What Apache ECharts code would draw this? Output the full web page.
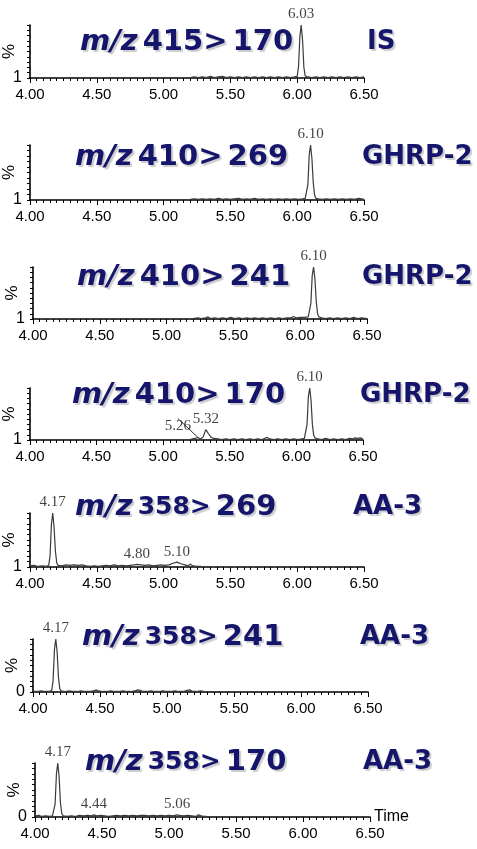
<!DOCTYPE html>
<html>
<head>
<meta charset="utf-8">
<script src="https://cdn.jsdelivr.net/npm/echarts@6/dist/echarts.min.js"></script>
<style>
html,body{margin:0;padding:0;background:#fff;}
#c{width:477px;height:849px;}
</style>
</head>
<body>
<div id="c"></div>
<script>
// ---------- DATA ----------
var xTicks = ['4.00','4.50','5.00','5.50','6.00','6.50'];
var transitions = ['415> 170','410> 269','410> 241','410> 170','358> 269','358> 241','358> 170'];
var compounds = ['IS','GHRP-2','GHRP-2','GHRP-2','AA-3','AA-3','AA-3'];
var baseLabels = ['1','1','1','1','1','0','0'];

var trace1 = [[5.20,1],[5.23,2],[5.26,1],[5.29,2],[5.32,1],[5.35,3],[5.38,1],[5.41,2],[5.44,3],[5.47,1],[5.50,2],[5.53,1],[5.56,2],[5.59,1],[5.62,2],[5.65,1],[5.68,2],[5.71,1],[5.74,2],[5.77,1],[5.80,2],[5.83,1],[5.86,2],[5.89,1],[5.92,2],[5.95,1],[5.98,2],[6.00,3],[6.01,22],[6.02,78],[6.03,100],[6.04,72],[6.05,20],[6.06,4],[6.08,2],[6.11,1],[6.14,2],[6.17,1],[6.20,2],[6.23,1],[6.26,2],[6.29,1],[6.32,2],[6.35,1],[6.38,2],[6.41,1],[6.44,2],[6.47,1],[6.50,2]];
var trace2 = [[5.20,1],[5.23,2],[5.26,1],[5.29,2],[5.32,1],[5.35,2],[5.38,1],[5.41,3],[5.44,1],[5.47,2],[5.50,1],[5.53,2],[5.56,3],[5.59,1],[5.62,2],[5.65,1],[5.68,3],[5.71,1],[5.74,2],[5.77,1],[5.80,2],[5.83,1],[5.86,2],[5.89,1],[5.92,2],[5.95,1],[5.98,2],[6.01,1],[6.04,2],[6.06,3],[6.07,5],[6.08,28],[6.09,82],[6.10,100],[6.11,76],[6.12,32],[6.13,9],[6.14,3],[6.16,2],[6.19,1],[6.22,2],[6.25,1],[6.28,2],[6.31,1],[6.34,2],[6.37,1],[6.40,2],[6.43,1],[6.46,3],[6.48,2],[6.50,1]];
var trace3 = [[5.20,1],[5.23,2],[5.26,1],[5.29,2],[5.31,4],[5.33,1],[5.36,2],[5.39,1],[5.42,2],[5.45,1],[5.48,3],[5.51,1],[5.54,2],[5.57,1],[5.60,2],[5.63,1],[5.66,2],[5.69,1],[5.72,2],[5.75,1],[5.78,2],[5.81,1],[5.84,2],[5.87,1],[5.90,2],[5.93,2],[5.95,5],[5.97,2],[6.00,3],[6.03,3],[6.06,4],[6.07,6],[6.08,30],[6.09,84],[6.10,100],[6.11,78],[6.12,34],[6.13,10],[6.14,4],[6.16,2],[6.19,1],[6.22,2],[6.25,1],[6.28,2],[6.31,1],[6.34,2],[6.37,1],[6.40,3],[6.43,1],[6.46,2],[6.50,1]];
var trace4 = [[5.20,1],[5.22,2],[5.24,3],[5.26,5],[5.28,2],[5.30,6],[5.32,20],[5.34,12],[5.36,5],[5.38,3],[5.41,2],[5.44,1],[5.47,2],[5.50,1],[5.53,2],[5.56,1],[5.59,2],[5.62,1],[5.65,2],[5.68,1],[5.71,2],[5.74,1],[5.76,3],[5.78,5],[5.80,2],[5.83,1],[5.86,2],[5.89,1],[5.92,2],[5.95,1],[5.98,2],[6.01,1],[6.04,2],[6.06,3],[6.07,6],[6.08,30],[6.09,84],[6.10,100],[6.11,76],[6.12,30],[6.13,9],[6.14,4],[6.16,2],[6.19,1],[6.22,3],[6.25,1],[6.28,2],[6.31,1],[6.34,2],[6.37,1],[6.40,3],[6.42,2],[6.44,4],[6.46,3],[6.48,4],[6.50,2]];
var trace5 = [[4.00,2],[4.03,3],[4.06,1],[4.09,2],[4.12,1],[4.14,3],[4.15,20],[4.16,78],[4.17,100],[4.18,74],[4.19,30],[4.20,8],[4.21,3],[4.24,2],[4.27,4],[4.30,3],[4.33,4],[4.36,3],[4.39,4],[4.42,2],[4.45,1],[4.48,2],[4.51,1],[4.54,2],[4.57,3],[4.60,2],[4.63,4],[4.66,2],[4.69,3],[4.72,2],[4.75,3],[4.78,4],[4.80,5],[4.83,4],[4.86,3],[4.89,4],[4.92,2],[4.95,3],[4.98,4],[5.01,3],[5.04,4],[5.07,7],[5.10,9],[5.13,6],[5.16,4],[5.18,2],[5.20,5],[5.22,2],[5.25,1],[5.28,1]];
var trace6 = [[4.00,1],[4.03,1],[4.06,2],[4.09,1],[4.12,1],[4.14,3],[4.15,22],[4.16,80],[4.17,100],[4.18,76],[4.19,28],[4.20,6],[4.21,2],[4.24,1],[4.27,2],[4.30,1],[4.33,1],[4.36,2],[4.39,1],[4.42,1],[4.45,2],[4.47,4],[4.49,2],[4.52,1],[4.55,1],[4.58,2],[4.61,1],[4.64,1],[4.67,2],[4.70,1],[4.73,1],[4.76,2],[4.78,4],[4.80,3],[4.82,1],[4.85,1],[4.88,2],[4.91,1],[4.94,1],[4.97,2],[5.00,1],[5.03,1],[5.06,2],[5.09,1],[5.12,1],[5.15,3],[5.17,4],[5.19,1],[5.22,1],[5.25,2],[5.28,1]];
var trace7 = [[4.00,2],[4.01,5],[4.03,3],[4.05,1],[4.08,2],[4.11,1],[4.13,2],[4.14,4],[4.15,24],[4.16,80],[4.17,100],[4.18,74],[4.19,26],[4.20,6],[4.21,2],[4.24,1],[4.27,2],[4.30,1],[4.33,3],[4.36,2],[4.39,3],[4.42,2],[4.44,4],[4.46,2],[4.49,3],[4.52,2],[4.55,1],[4.58,2],[4.61,3],[4.64,2],[4.67,3],[4.70,2],[4.73,3],[4.76,2],[4.79,3],[4.82,3],[4.85,2],[4.88,3],[4.91,2],[4.94,3],[4.97,2],[5.00,3],[5.03,2],[5.06,4],[5.08,3],[5.11,2],[5.14,3],[5.17,2],[5.20,1],[5.22,4],[5.24,2],[5.26,1],[5.28,1]];

var peaks1 = [[6.03,100]];
var peaks2 = [[6.10,100]];
var peaks3 = [[6.10,100]];
var peaks4 = [[5.26,5],[5.32,20],[6.10,100]];
var peaks5 = [[4.17,100],[4.80,5],[5.10,9]];
var peaks6 = [[4.17,100]];
var peaks7 = [[4.17,100],[4.44,4],[5.06,4]];

var traces = [trace1,trace2,trace3,trace4,trace5,trace6,trace7];
var peaks = [peaks1,peaks2,peaks3,peaks4,peaks5,peaks6,peaks7];

// ---------- LAYOUT ----------
var grids = [
  {left:30, top:25,  width:334, height:53},
  {left:30, top:145, width:334, height:55},
  {left:33, top:267, width:334, height:52},
  {left:30, top:388, width:333, height:52},
  {left:30, top:513, width:334, height:54},
  {left:33, top:639, width:335, height:53},
  {left:35, top:763, width:335, height:54}
];
var titlePos = [
  {x:80, y:43, cx:367}, {x:75, y:158, cx:362}, {x:77, y:278, cx:362}, {x:72, y:396, cx:360},
  {x:75, y:508, cx:353}, {x:82, y:638, cx:360}, {x:85, y:763, cx:363}
];

var navy = '#15156b';
var shadow = {textShadowColor:'rgba(0,0,0,0.2)', textShadowBlur:1, textShadowOffsetX:2, textShadowOffsetY:2};
var FS = 29;
var CFS = 26;

var option = {
  animation:false,
  backgroundColor:'#fff',
  title:[], grid:[], xAxis:[], yAxis:[], series:[]
};

for (var i=0;i<7;i++){
  var g = grids[i];
  option.grid.push({left:g.left, top:g.top, width:g.width, height:g.height, containLabel:false, outerBoundsMode:'none'});
  var small = i>=4;
  var tp = titlePos[i];
  var parts = transitions[i].split(' ');
  option.title.push({
    text:'{i|m/z} {n|'+parts[0]+'} {b|'+parts[1]+'}',
    left:tp.x, top:tp.y-15, padding:0,
    textStyle:{
      rich:{
        i:Object.assign({fontFamily:'DejaVu Sans', fontWeight:'bold', fontStyle:'italic', fontSize:FS, color:navy}, shadow),
        n:Object.assign({fontFamily:'DejaVu Sans', fontWeight:'bold', fontSize: small?25:FS, color:navy}, shadow),
        b:Object.assign({fontFamily:'DejaVu Sans', fontWeight:'bold', fontSize:FS, color:navy}, shadow)
      }
    }
  });
  option.title.push({
    text:compounds[i], left:tp.cx, top:tp.y-14, padding:0,
    textStyle:Object.assign({fontFamily:'DejaVu Sans', fontWeight:'bold', fontSize:CFS, color:navy}, shadow)
  });
  (function(idx){
    option.xAxis.push({
      type:'value', gridIndex:idx, min:4, max:6.5, interval:0.5,
      axisLine:{show:true, onZero:false, lineStyle:{color:'#000', width:1.6}},
      axisTick:{show:true, length:5, lineStyle:{color:'#000', width:1}},
      minorTick:{show:true, splitNumber:10, length:3, lineStyle:{color:'#000', width:1}},
      splitLine:{show:false},
      axisLabel:{margin:9, fontFamily:'Liberation Sans', fontSize:15, color:'#000',
        formatter:function(v){ return v.toFixed(2); }},
      name: idx===6 ? 'Time' : '',
      nameLocation:'end', nameGap:4,
      nameTextStyle:{fontFamily:'Liberation Sans', fontSize:16, color:'#000', verticalAlign:'middle'}
    });
    option.yAxis.push({
      type:'value', gridIndex:idx, min:0, max:100, interval:10,
      axisLine:{show:true, lineStyle:{color:'#000', width:1.6}},
      axisTick:{show:true, length:3, lineStyle:{color:'#000'}},
      splitLine:{show:false},
      axisLabel:{margin:8, fontFamily:'Liberation Sans', fontSize:16, color:'#000',
        formatter:function(v){ return v===0 ? baseLabels[idx] : ''; }},
      name:'%', nameLocation:'middle', nameGap:12, nameRotate:90, nameMoveOverlap:false,
      nameTextStyle:{fontFamily:'Liberation Sans', fontSize:17, color:'#000'}
    });
  })(i);
  option.series.push({
    type:'line', xAxisIndex:i, yAxisIndex:i, data:traces[i],
    showSymbol:false, symbol:'none', silent:true,
    lineStyle:{color:'#3a3a3a', width:1.2}
  });
  var isP4 = (i===3);
  var pdata = peaks[i].map(function(p, k){
    var item = {value:p};
    if (isP4 && k===0) { item.labelLine = {show:true, lineStyle:{color:'#333', width:1}}; }
    return item;
  });
  option.series.push({
    type:'scatter', xAxisIndex:i, yAxisIndex:i, data:pdata,
    symbolSize:0, silent:true,
    label:{show:true, position:'top', distance:3, fontFamily:'Liberation Serif', fontSize:15, color:'#111',
      formatter:function(p){ return p.value[0].toFixed(2); }},
    labelLine:{show:false},
    labelLayout: isP4 ? function(params){
      if (params.dataIndex===0) { return {dx:-20, dy:-1}; }
      return {};
    } : null
  });
}

var chart = echarts.init(document.getElementById('c'), null, {renderer:'canvas'});
chart.setOption(option);
</script>
</body>
</html>
